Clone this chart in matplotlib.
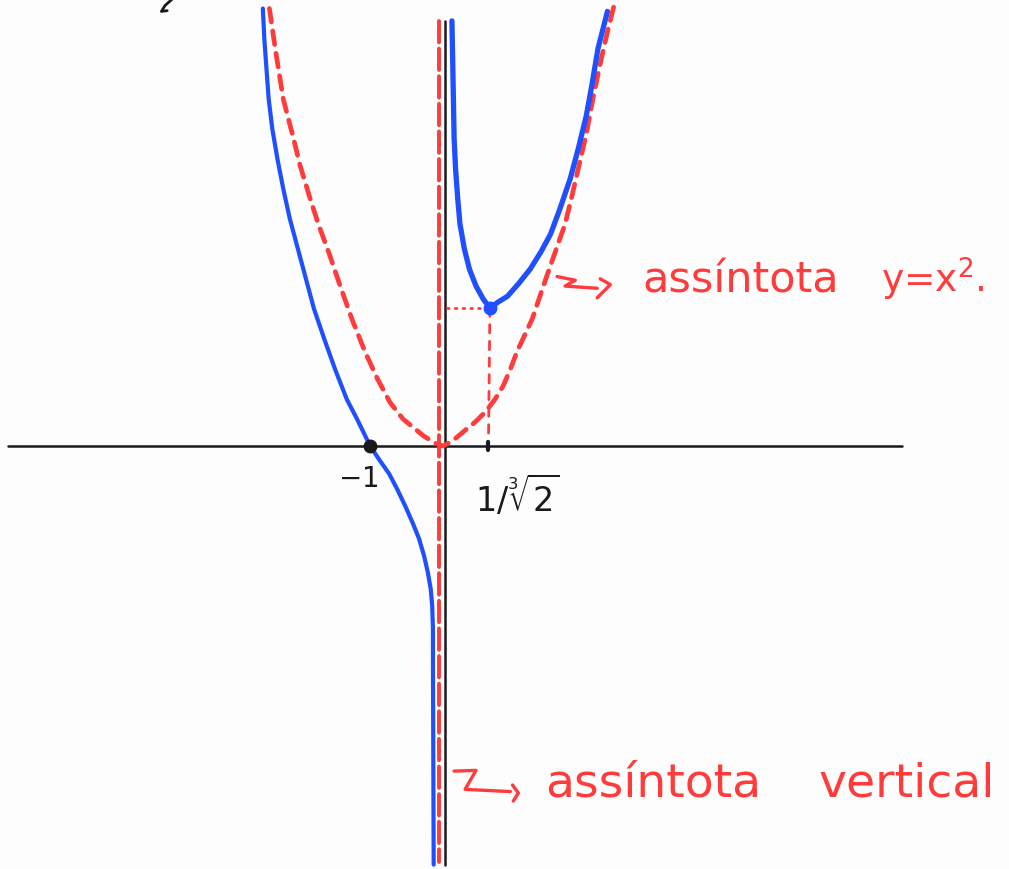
import matplotlib.pyplot as plt

# ---- sketch of y = x^2 + 1/x ----
# left branch (x < 0)
left_x = [-2.47, -2.45, -2.42, -2.39, -2.34, -2.27, -2.19, -2.10, -1.99, -1.88,
          -1.77, -1.63, -1.48, -1.32, -1.18, -1.00, -0.88, -0.74, -0.63, -0.52,
          -0.41, -0.33, -0.26, -0.21, -0.17, -0.15, -0.14, -0.14, -0.13]
left_y = [5.99, 5.58, 5.16, 4.75, 4.34, 3.93, 3.52, 3.11, 2.70, 2.29,
          1.88, 1.47, 1.05, 0.64, 0.37, 0.00, -0.18, -0.38, -0.59, -0.82,
          -1.07, -1.27, -1.51, -1.73, -1.96, -2.19, -2.51, -2.92, -5.73]

# right branch (x > 0)
right_x = [0.12, 0.13, 0.14, 0.15, 0.17, 0.20, 0.23, 0.29, 0.36, 0.45, 0.55,
           0.64, 0.75, 0.88, 1.03, 1.19, 1.34, 1.47, 1.60, 1.74, 1.85, 1.96,
           2.04, 2.12, 2.25]
right_y = [5.82, 5.30, 4.75, 4.21, 3.79, 3.38, 3.04, 2.70, 2.42, 2.19, 2.01,
           1.89, 1.97, 2.05, 2.22, 2.42, 2.66, 2.90, 3.25, 3.66, 4.07, 4.52,
           4.96, 5.44, 5.95]

# oblique asymptote y = x^2 as sketched
para_x = [-2.38, -2.30, -2.19, -2.05, -1.96, -1.82, -1.71, -1.56, -1.41, -1.25,
          -1.07, -0.90, -0.73, -0.55, -0.27, -0.11, 0.00, 0.14, 0.27, 0.44,
          0.58, 0.71, 0.82, 0.92, 1.01, 1.22, 1.42, 1.55, 1.67, 1.77,
          1.86, 1.96, 2.05, 2.15, 2.25, 2.34]
para_y = [5.99, 5.44, 4.75, 4.21, 3.84, 3.38, 3.04, 2.63, 2.19, 1.74,
          1.29, 0.92, 0.60, 0.37, 0.14, 0.04, 0.00, 0.08, 0.19, 0.33,
          0.47, 0.64, 0.82, 1.05, 1.29, 1.74, 2.33, 2.70, 3.04, 3.45,
          3.84, 4.27, 4.75, 5.23, 5.67, 6.03]

# special points
root = (-1.00, 0.00)
minimum = (0.64, 1.89)
tick_labels = ["$-1$", r"$1/\sqrt[3]{2}$"]

# little zig-zag arrows next to the notes
arrow1_x = [1.56, 1.81, 1.67, 2.11]
arrow1_y = [2.32, 2.27, 2.19, 2.16]
head1_x = [2.15, 2.29, 2.11]
head1_y = [2.29, 2.21, 2.03]
arrow2_x = [0.15, 0.45, 0.30, 0.92]
arrow2_y = [-4.45, -4.44, -4.70, -4.73]
head2_x = [0.95, 1.03, 0.96]
head2_y = [-4.64, -4.75, -4.86]

BLUE = "#1f4fff"
RED = "#ff3b3b"
INK = "#1a1a1a"

fig = plt.figure(figsize=(10.09, 8.70), dpi=100, facecolor="#fdfdfd")
ax = fig.add_axes([0, 0, 1, 1])
ax.set_facecolor("#fdfdfd")
ax.set_xlim(-6.07, 7.75)
ax.set_ylim(-5.79, 6.12)
ax.axis("off")

# axes
ax.plot([-5.96, 6.29], [0, 0], color=INK, lw=1.8, solid_capstyle="round")
ax.plot([0.02, 0.02], [5.82, -5.74], color=INK, lw=1.8, solid_capstyle="round")

# vertical asymptote x = 0
ax.plot([-0.06, -0.06], [5.82, -5.70], color=RED, lw=2.8,
        dashes=(5.5, 1.6), dash_capstyle="round")

# parabola y = x^2
ax.plot(para_x, para_y, color=RED, lw=3.4, dashes=(2.9, 1.9),
        dash_capstyle="round", dash_joinstyle="round")

# curve branches
ax.plot(left_x, left_y, color=BLUE, lw=3.0, solid_joinstyle="round",
        solid_capstyle="round")
ax.plot(right_x, right_y, color=BLUE, lw=3.8, solid_joinstyle="round",
        solid_capstyle="round")

# guides to the local minimum
ax.plot([0.05, minimum[0]], [minimum[1], minimum[1]], color=RED, lw=2.0,
        dashes=(0.6, 2.2), dash_capstyle="round")
ax.plot([minimum[0], minimum[0] - 0.02], [minimum[1], 0], color=RED, lw=2.0,
        dashes=(3.0, 3.0), dash_capstyle="round")
ax.plot([minimum[0] - 0.02] * 2, [-0.06, 0.06], color=INK, lw=3,
        solid_capstyle="round")

ax.plot(*root, "o", color=INK, ms=9, zorder=5)
ax.plot(*minimum, "o", color=BLUE, ms=9, zorder=5)

# tick labels
ax.text(-1.17, -0.44, tick_labels[0], fontsize=20, color=INK,
        ha="center", va="center")
ax.text(1.02, -0.66, tick_labels[1], fontsize=24, color=INK,
        ha="center", va="center")

# notes
ax.plot(arrow1_x, arrow1_y, color=RED, lw=2.4, solid_joinstyle="round",
        solid_capstyle="round")
ax.plot(head1_x, head1_y, color=RED, lw=2.4, solid_joinstyle="round",
        solid_capstyle="round")
ax.text(2.73, 2.11, "assíntota", fontsize=31, color=RED, va="baseline")
ax.text(5.99, 2.11, "y=x$^2$.", fontsize=27, color=RED, va="baseline")

ax.plot(arrow2_x, arrow2_y, color=RED, lw=2.4, solid_joinstyle="round",
        solid_capstyle="round")
ax.plot(head2_x, head2_y, color=RED, lw=2.4, solid_joinstyle="round",
        solid_capstyle="round")
ax.text(1.40, -4.78, "assíntota", fontsize=34, color=RED, va="baseline")
ax.text(5.14, -4.78, "vertical", fontsize=34, color=RED, va="baseline")

# stray pen stroke at the top edge
ax.plot([-3.71, -3.81, -3.86, -3.78], [6.12, 6.03, 5.95, 5.96],
        color=INK, lw=2.0, solid_capstyle="round")

fig.savefig("out.png", dpi=100, facecolor=fig.get_facecolor())
